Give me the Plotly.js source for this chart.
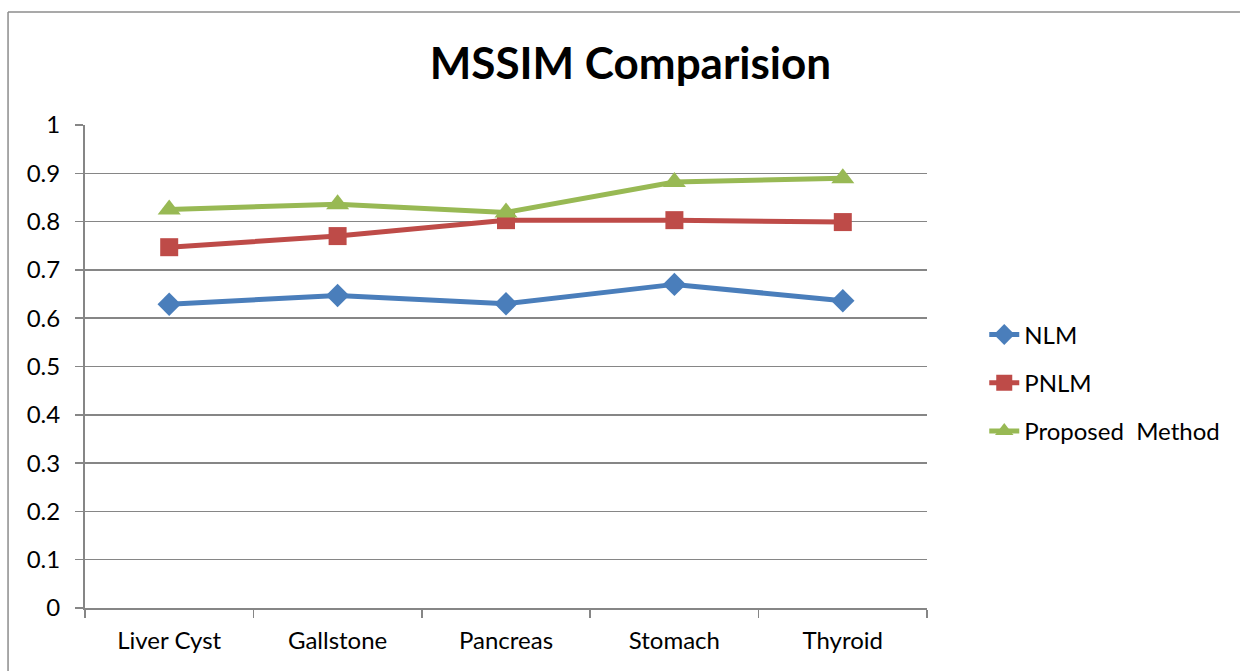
<!DOCTYPE html>
<html>
<head>
<meta charset="utf-8">
<script src="https://cdn.plot.ly/plotly-3.0.1.min.js"></script>
<style>
html,body{margin:0;padding:0;background:#fff;}
#chart{width:1241px;height:671px;}
</style>
</head>
<body>
<div id="chart"></div>
<script>
const categories = ["Liver Cyst", "Gallstone", "Pancreas", "Stomach", "Thyroid"];
const nlm = [0.629, 0.647, 0.630, 0.670, 0.636];
const pnlm = [0.747, 0.770, 0.803, 0.803, 0.799];
const proposed = [0.825, 0.836, 0.819, 0.882, 0.890];
const yTicks = [0, 0.1, 0.2, 0.3, 0.4, 0.5, 0.6, 0.7, 0.8, 0.9, 1];
const yTickText = ["0", "0.1", "0.2", "0.3", "0.4", "0.5", "0.6", "0.7", "0.8", "0.9", "1"];

const FONT = "Lato, 'Open Sans', sans-serif";

const traces = [
  {x: categories, y: nlm, name: "NLM", type: "scatter", mode: "lines+markers", legendgroup: "a",
   line: {color: "#4A7EBB", width: 5}, marker: {symbol: "diamond", size: 18, color: "#4A7EBB"}},
  {x: categories, y: pnlm, name: "PNLM", type: "scatter", mode: "lines+markers", legendgroup: "b",
   line: {color: "#BE4B48", width: 5}, marker: {symbol: "square", size: 18, color: "#BE4B48"}},
  {x: categories, y: proposed, name: "Proposed  Method", type: "scatter", mode: "lines+markers", legendgroup: "c",
   line: {color: "#98B954", width: 5}, marker: {symbol: "triangle-up", size: 20, color: "#98B954"}}
];

const layout = {
  width: 1241, height: 671,
  margin: {l: 85, r: 314, t: 125, b: 63},
  paper_bgcolor: "#fff", plot_bgcolor: "#fff",
  font: {family: FONT, color: "#000", size: 24},
  title: {text: "<b>MSSIM Comparision</b>", font: {family: FONT, size: 44, color: "#000"},
          x: 0.508, xanchor: "center", y: 0.905, yanchor: "middle"},
  xaxis: {type: "category", tickson: "boundaries", ticks: "outside", ticklen: 8, tickwidth: 1.5,
          tickcolor: "#868686", showline: true, linecolor: "#868686", linewidth: 2,
          showgrid: false, tickfont: {size: 24, family: FONT}, range: [-0.5, 4.5],
          ticklabelstandoff: 10},
  yaxis: {range: [0, 1], tickvals: yTicks, ticktext: yTickText, ticks: "outside", ticklen: 8,
          tickwidth: 1.5, tickcolor: "#868686", showline: true, linecolor: "#868686", linewidth: 2,
          showgrid: true, gridcolor: "#868686", gridwidth: 1.5, zeroline: false,
          tickfont: {size: 24, family: FONT}, ticklabelstandoff: 10},
  legend: {x: 1.068, y: 0.466, xanchor: "left", yanchor: "middle", font: {size: 24, family: FONT},
           tracegroupgap: 14, bgcolor: "rgba(0,0,0,0)"},
  showlegend: true,
  shapes: [
    {type: "line", xref: "paper", yref: "paper", x0: -0.0914, x1: 1.3717, y0: 1.234, y1: 1.234,
     line: {color: "#8c8c8c", width: 1.5}},
    {type: "line", xref: "paper", yref: "paper", x0: -0.0914, x1: -0.0914, y0: 1.234, y1: -0.2,
     line: {color: "#8c8c8c", width: 1.5}}
  ]
};

Plotly.newPlot("chart", traces, layout, {displayModeBar: false, staticPlot: true});
</script>
</body>
</html>
